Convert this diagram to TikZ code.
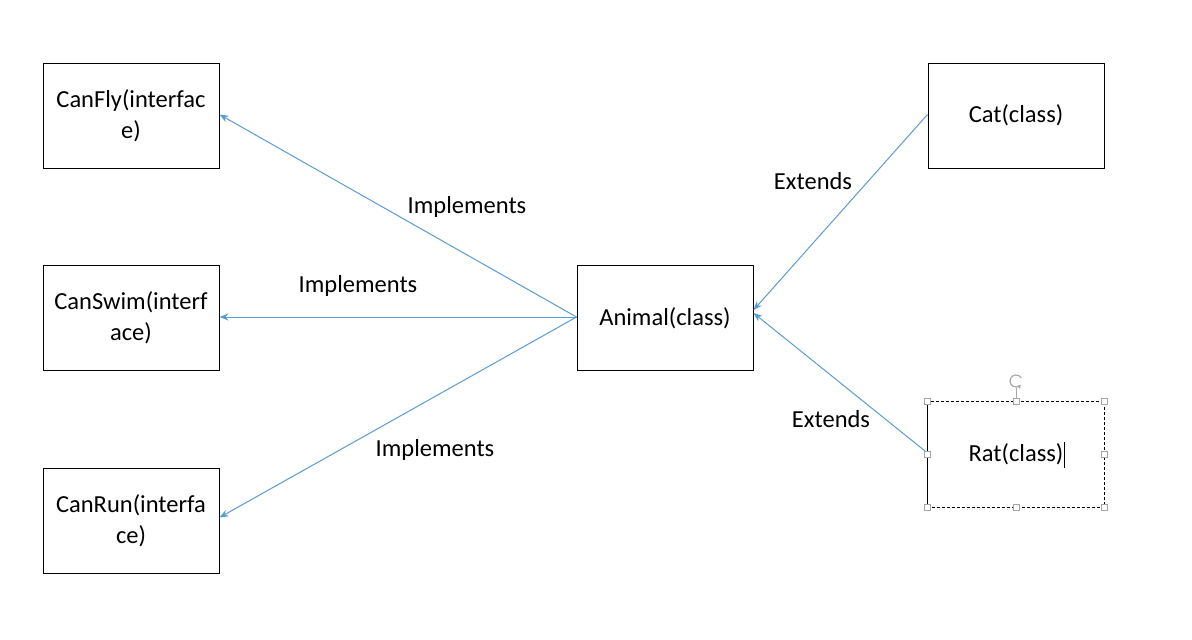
\documentclass[tikz,border=0pt]{standalone}
\usepackage{fontspec}
\setmainfont{Carlito}
\usetikzlibrary{arrows.meta, positioning}
\definecolor{linkblue}{HTML}{5B9BD5}
\definecolor{handlegray}{HTML}{A6A6A6}

\begin{document}
\begin{tikzpicture}[x=0.5pt, y=-0.5pt,
    classbox/.style={draw, line width=0.5pt, minimum width=88pt, minimum height=52.5pt,
        align=center, font=\fontsize{12.25}{15.5}\selectfont, inner sep=0pt},
    link/.style={draw=linkblue, line width=0.5pt, -{Stealth[length=4.5pt, width=3.5pt]}},
    tag/.style={font=\fontsize{12.25}{15.5}\selectfont},
    grip/.style={draw=handlegray, fill=white, line width=0.4pt, minimum size=3pt, inner sep=0pt}]
    % Rahmen
    \useasboundingbox (0,0) rectangle (1192,639);

    % Interfaces
    \node[classbox] (fly) at (131,115.5) {CanFly(interfac\\e)};
    \node[classbox] (swim) at (131,318) {CanSwim(interf\\ace)};
    \node[classbox] (run) at (131,520.5) {CanRun(interfa\\ce)};

    % Klassen
    \node[classbox] (animal) at (665,318) {Animal(class)};
    \node[classbox] (cat) at (1016,115.5) {Cat(class)};
    \node[classbox, draw=none] (rat) at (1016,454) {Rat(class)};

    % Beziehungen
    \draw[link] ([yshift=0.5pt]animal.west) -- ([yshift=0.5pt]fly.east);
    \draw[link] ([yshift=0.5pt]animal.west) -- ([yshift=0.5pt]swim.east);
    \draw[link] ([yshift=0.5pt]animal.west) -- ([yshift=1.5pt]run.east);
    \draw[link] ([yshift=0.5pt]cat.west) -- ([yshift=4pt]animal.east);
    \draw[link] ([yshift=0.5pt]rat.west) -- ([yshift=2.5pt]animal.east);

    % Beschriftungen
    \node[tag] (impl1) at (467,207) {Implements};
    \node[tag] (impl2) at (358,286) {Implements};
    \node[tag] (impl3) at (435,450) {Implements};
    \node[tag] (ext1) at (813,181) {Extends};
    \node[tag] (ext2) at (831,419) {Extends};

    % Auswahlrahmen um Rat
    \draw[line width=0.5pt] (rat.north west) -- (rat.south west);
    \draw[line width=0.4pt, dash pattern=on 1.5pt off 1pt] (rat.north west) rectangle (rat.south east);
    \draw[line width=0.5pt] (1064,442) -- (1064,468);
    \draw[handlegray, line width=0.5pt] (rat.north) -- ++(0,-13);
    \draw[handlegray, line width=0.6pt, -{Stealth[length=2pt, width=2.5pt]}] (1016,381) ++(-30:6) arc (-30:-320:6);
    \foreach \a in {north west, north, north east, west, east, south west, south, south east}
        \node[grip] at (rat.\a) {};
\end{tikzpicture}
\end{document}
